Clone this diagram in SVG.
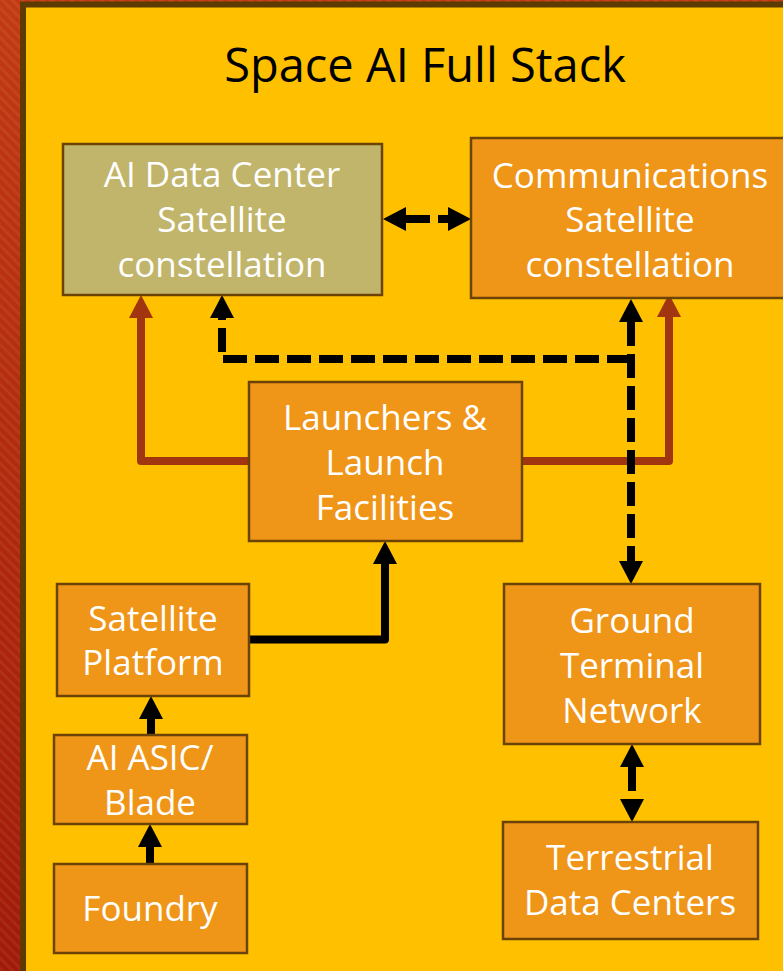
<svg xmlns="http://www.w3.org/2000/svg" width="783" height="971" viewBox="0 0 783 971">
  <defs>
    <linearGradient id="edgeRed" x1="0" y1="0" x2="0" y2="1">
      <stop offset="0" stop-color="#C23A12"/>
      <stop offset="1" stop-color="#A01A08"/>
    </linearGradient>
    <pattern id="stripes" width="7" height="7" patternUnits="userSpaceOnUse" patternTransform="rotate(-45)">
      <rect width="3" height="7" fill="#ffffff" opacity="0.06"/>
    </pattern>
    <marker id="headBlack" markerUnits="userSpaceOnUse" viewBox="0 0 23 24" markerWidth="23" markerHeight="24" refX="0" refY="12" orient="auto-start-reverse">
      <path d="M0,0 L23,12 L0,24 Z" fill="#000000"/>
    </marker>
    <marker id="headRed" markerUnits="userSpaceOnUse" viewBox="0 0 23 24" markerWidth="23" markerHeight="24" refX="0" refY="12" orient="auto-start-reverse">
      <path d="M0,0 L23,12 L0,24 Z" fill="#A0350F"/>
    </marker>
  </defs>
  <style>
    .box { stroke: #6B4306; stroke-width: 2.5; }
    .orange { fill: #EF9518; }
    .khaki { fill: #C1B56B; }
    .label { font-family: "Open Sans", "DejaVu Sans", sans-serif; font-size: 35px; fill: #FFFFFF; text-anchor: middle; }
    .title { font-family: "Open Sans", "DejaVu Sans", sans-serif; font-size: 47px; fill: #000000; text-anchor: middle; }
    .link { fill: none; stroke-linejoin: round; }
    .solid { stroke: #000000; stroke-width: 8; marker-end: url(#headBlack); }
    .dashed { stroke: #000000; stroke-width: 8; stroke-dasharray: 24 8; }
    .launch { stroke: #A0350F; stroke-width: 8; marker-end: url(#headRed); }
  </style>

  <!-- backdrop: red edge band and gold panel -->
  <rect x="0" y="0" width="783" height="971" fill="url(#edgeRed)"/>
  <rect x="0" y="0" width="783" height="971" fill="url(#stripes)"/>
  <rect x="23" y="4.5" width="800" height="1000" fill="#FFC000" stroke="#5C3A00" stroke-width="6"/>

  <text class="title" x="425" y="82">Space AI Full Stack</text>

  <!-- connectors -->
  <g id="connectors">
    <path class="link launch" d="M249,461 H141 V318"/>
    <path class="link launch" d="M521,461 H669 V317"/>
    <path class="link dashed" d="M631,359 H222 V318" marker-end="url(#headBlack)"/>
    <path class="link dashed" d="M631,322 V561" marker-start="url(#headBlack)" marker-end="url(#headBlack)"/>
    <path class="link dashed" d="M406,219 H448" marker-start="url(#headBlack)" marker-end="url(#headBlack)"/>
    <path class="link solid" d="M249,639.5 H385 V564" stroke-width="7"/>
    <path class="link solid" d="M151,735 V719"/>
    <path class="link solid" d="M150,864 V847"/>
    <path class="link dashed" d="M632,767 V799" marker-start="url(#headBlack)" marker-end="url(#headBlack)"/>
  </g>

  <!-- nodes -->
  <g id="ai-data-center">
    <rect class="box khaki" x="63" y="144" width="319" height="151"/>
    <text class="label" x="222" y="187">AI Data Center</text>
    <text class="label" x="222" y="232">Satellite</text>
    <text class="label" x="222" y="277">constellation</text>
  </g>
  <g id="comms-constellation">
    <rect class="box orange" x="471" y="138" width="318" height="160"/>
    <text class="label" x="630" y="188">Communications</text>
    <text class="label" x="630" y="232">Satellite</text>
    <text class="label" x="630" y="277">constellation</text>
  </g>
  <g id="launchers">
    <rect class="box orange" x="249" y="382" width="273" height="159"/>
    <text class="label" x="385" y="430">Launchers &amp;</text>
    <text class="label" x="385" y="475">Launch</text>
    <text class="label" x="385" y="520">Facilities</text>
  </g>
  <g id="satellite-platform">
    <rect class="box orange" x="57" y="584" width="192" height="112"/>
    <text class="label" x="153" y="631">Satellite</text>
    <text class="label" x="153" y="675">Platform</text>
  </g>
  <g id="ai-asic">
    <rect class="box orange" x="54" y="735" width="193" height="89"/>
    <text class="label" x="150" y="770">AI ASIC/</text>
    <text class="label" x="150" y="815">Blade</text>
  </g>
  <g id="foundry">
    <rect class="box orange" x="54" y="864" width="193" height="89"/>
    <text class="label" x="150" y="921">Foundry</text>
  </g>
  <g id="ground-terminal">
    <rect class="box orange" x="504" y="584" width="256" height="160"/>
    <text class="label" x="632" y="633">Ground</text>
    <text class="label" x="632" y="678">Terminal</text>
    <text class="label" x="632" y="723">Network</text>
  </g>
  <g id="terrestrial-dc">
    <rect class="box orange" x="503" y="822" width="255" height="117"/>
    <text class="label" x="630" y="870">Terrestrial</text>
    <text class="label" x="630" y="915">Data Centers</text>
  </g>
</svg>
